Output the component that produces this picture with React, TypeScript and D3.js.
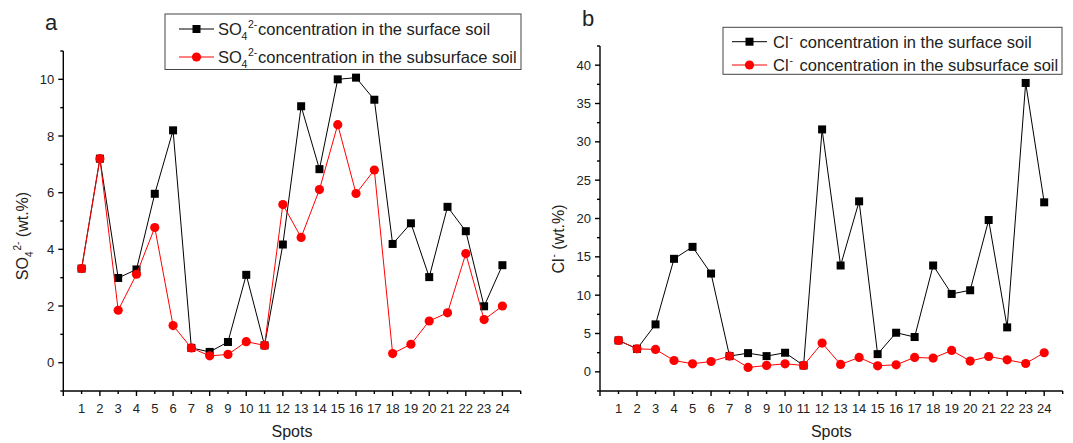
import React from 'react';
import * as d3 from 'd3';

const spots = [1, 2, 3, 4, 5, 6, 7, 8, 9, 10, 11, 12, 13, 14, 15, 16, 17, 18, 19, 20, 21, 22, 23, 24];

const so4Surface = [3.32, 7.2, 2.99, 3.29, 5.96, 8.2, 0.52, 0.38, 0.73, 3.1, 0.61, 4.17, 9.05, 6.83, 10.0, 10.06, 9.28, 4.19, 4.92, 3.02, 5.5, 4.64, 1.99, 3.44];
const so4Subsurface = [3.32, 7.2, 1.85, 3.12, 4.77, 1.31, 0.52, 0.24, 0.29, 0.74, 0.61, 5.58, 4.42, 6.11, 8.4, 5.97, 6.8, 0.32, 0.65, 1.47, 1.76, 3.85, 1.52, 2.0];

const clSurface = [4.1, 3.0, 6.19, 14.74, 16.3, 12.82, 2.05, 2.44, 2.05, 2.49, 0.83, 31.62, 13.87, 22.24, 2.31, 5.1, 4.54, 13.87, 10.16, 10.64, 19.8, 5.8, 37.68, 22.11];
const clSubsurface = [4.1, 3.0, 2.92, 1.48, 1.05, 1.35, 2.05, 0.57, 0.83, 1.05, 0.83, 3.75, 0.96, 1.88, 0.79, 0.92, 1.88, 1.79, 2.79, 1.4, 2.0, 1.57, 1.09, 2.49];

const xMajorTicks = [0, 2, 4, 6, 8, 10, 12, 14, 16, 18, 20, 22, 24];
const xMinorTicks = [1, 3, 5, 7, 9, 11, 13, 15, 17, 19, 21, 23, 25];
const so4MajorTicks = [0, 2, 4, 6, 8, 10];
const so4MinorTicks = [-1, 1, 3, 5, 7, 9, 11];
const clMajorTicks = [0, 5, 10, 15, 20, 25, 30, 35, 40];
const clMinorTicks = [-2.5, 2.5, 7.5, 12.5, 17.5, 22.5, 27.5, 32.5, 37.5, 42.5];

const FONT = "'Liberation Sans', Arial, sans-serif";
const RED = '#ff0000';
const TXT = '#222';

type PanelProps = {
  x0: number; x1: number; y0: number; y1: number;
  xDomain: [number, number]; yDomain: [number, number];
  yMajor: number[]; yMinor: number[];
  surface: number[]; subsurface: number[];
  yLabel: React.ReactNode;
  legend: React.ReactNode;
  letter: React.ReactNode;
};

function Panel(p: PanelProps) {
  const xs = d3.scaleLinear().domain(p.xDomain).range([p.x0, p.x1]);
  const ys = d3.scaleLinear().domain(p.yDomain).range([p.y1, p.y0]);
  const line = d3.line<number>().x((_, i) => xs(spots[i])).y((d) => ys(d));
  return (
    <g>
      <line x1={p.x0} x2={p.x0} y1={p.y0} y2={p.y1} stroke="#000" strokeWidth={1.4} />
      <line x1={p.x0} x2={p.x1} y1={p.y1} y2={p.y1} stroke="#000" strokeWidth={1.4} />
      {p.yMajor.map((t) => (
        <g key={'ym' + t}>
          <line x1={p.x0 - 5} x2={p.x0} y1={ys(t)} y2={ys(t)} stroke="#000" strokeWidth={1.4} />
          <text x={p.x0 - 9} y={ys(t) + 4.5} textAnchor="end" fontSize={13} fontFamily={FONT} fill={TXT}>{t}</text>
        </g>
      ))}
      {p.yMinor.map((t) => (
        <line key={'yn' + t} x1={p.x0 - 3} x2={p.x0} y1={ys(t)} y2={ys(t)} stroke="#000" strokeWidth={1.4} />
      ))}
      {xMajorTicks.map((t) => (
        <line key={'xm' + t} x1={xs(t)} x2={xs(t)} y1={p.y1} y2={p.y1 + 5} stroke="#000" strokeWidth={1.4} />
      ))}
      {xMinorTicks.map((t) => (
        <line key={'xn' + t} x1={xs(t)} x2={xs(t)} y1={p.y1} y2={p.y1 + 3} stroke="#000" strokeWidth={1.4} />
      ))}
      {spots.map((s) => (
        <text key={'xl' + s} x={xs(s)} y={p.y1 + 22} textAnchor="middle" fontSize={13} fontFamily={FONT} fill={TXT}>{s}</text>
      ))}
      <text x={(p.x0 + p.x1) / 2} y={p.y1 + 46} textAnchor="middle" fontSize={16} fontFamily={FONT} fill={TXT}>Spots</text>
      {p.yLabel}
      {p.letter}
      <path d={line(p.surface) || ''} fill="none" stroke="#000" strokeWidth={1} />
      {p.surface.map((v, i) => (
        <rect key={'sq' + i} x={xs(spots[i]) - 4} y={ys(v) - 4} width={8} height={8} fill="#000" />
      ))}
      <path d={line(p.subsurface) || ''} fill="none" stroke={RED} strokeWidth={1} />
      {p.subsurface.map((v, i) => (
        <circle key={'ci' + i} cx={xs(spots[i])} cy={ys(v)} r={4.6} fill={RED} />
      ))}
      {p.legend}
    </g>
  );
}

function LegendRow({ x, y, color, square, children }: { x: number; y: number; color: string; square: boolean; children: React.ReactNode }) {
  return (
    <g>
      <line x1={x} x2={x + 35} y1={y} y2={y} stroke={color} strokeWidth={1} />
      {square ? (
        <rect x={x + 17.5 - 4} y={y - 4} width={8} height={8} fill={color} />
      ) : (
        <circle cx={x + 17.5} cy={y} r={4.6} fill={color} />
      )}
      {children}
    </g>
  );
}

function SO4Text({ x, y, rest }: { x: number; y: number; rest: string }) {
  return (
    <text y={y} fontSize={16.5} fontFamily={FONT} fill={TXT}>
      <tspan x={x}>SO</tspan>
      <tspan x={x + 23.5} fontSize={10.5} dy={5}>4</tspan>
      <tspan x={x + 30} fontSize={10.5} dy={-12}>2-</tspan>
      <tspan x={x + 40} dy={7}>{rest}</tspan>
    </text>
  );
}

function ClText({ x, y, rest }: { x: number; y: number; rest: string }) {
  return (
    <text y={y} fontSize={16.5} fontFamily={FONT} fill={TXT}>
      <tspan x={x}>Cl</tspan>
      <tspan x={x + 16.5} fontSize={10.5} dy={-7}>-</tspan>
      <tspan x={x + 26.5} dy={7}>{rest}</tspan>
    </text>
  );
}

export default function App() {
  return (
    <svg width={1073} height={443} style={{ position: 'absolute', left: 0, top: 0, background: '#fff' }}>
      <rect width={1073} height={443} fill="#fff" />
      <Panel
        x0={63.3} x1={520.7} y0={51} y1={391}
        xDomain={[0, 25]} yDomain={[-1, 11]}
        yMajor={so4MajorTicks} yMinor={so4MinorTicks}
        surface={so4Surface} subsurface={so4Subsurface}
        letter={<text x={45} y={30} fontSize={22} fontFamily={FONT} fill={TXT}>a</text>}
        yLabel={
          <text transform="translate(28,236) rotate(-90)" textAnchor="middle" fontSize={16} fontFamily={FONT} fill={TXT}>
            <tspan>SO</tspan>
            <tspan fontSize={10} dy={5}>4</tspan>
            <tspan fontSize={10} dy={-12} dx={1}>2-</tspan>
            <tspan fontSize={16} dy={7}> (wt.%)</tspan>
          </text>
        }
        legend={
          <g>
            <rect x={165} y={14} width={356} height={55.5} fill="#fff" stroke="#444" strokeWidth={1} />
            <LegendRow x={179} y={29} color="#000" square>
              <SO4Text x={218} y={35} rest="concentration in the surface soil" />
            </LegendRow>
            <LegendRow x={179} y={57} color={RED} square={false}>
              <SO4Text x={218} y={62.5} rest="concentration in the subsurface soil" />
            </LegendRow>
          </g>
        }
      />
      <Panel
        x0={600} x1={1062.7} y0={46} y1={391}
        xDomain={[0, 25]} yDomain={[-2.5, 42.5]}
        yMajor={clMajorTicks} yMinor={clMinorTicks}
        surface={clSurface} subsurface={clSubsurface}
        letter={<text x={582} y={26} fontSize={22} fontFamily={FONT} fill={TXT}>b</text>}
        yLabel={
          <text transform="translate(564,239) rotate(-90)" textAnchor="middle" fontSize={16} fontFamily={FONT} fill={TXT}>
            <tspan>Cl</tspan>
            <tspan fontSize={10} dy={-7} dx={1}>-</tspan>
            <tspan fontSize={16} dy={7}> (wt.%)</tspan>
          </text>
        }
        legend={
          <g>
            <rect x={723} y={27.3} width={339} height={47} fill="#fff" stroke="#444" strokeWidth={1} />
            <LegendRow x={732} y={41.7} color="#000" square>
              <ClText x={773} y={47.7} rest="concentration in the surface soil" />
            </LegendRow>
            <LegendRow x={732} y={65} color={RED} square={false}>
              <ClText x={773} y={71} rest="concentration in the subsurface soil" />
            </LegendRow>
          </g>
        }
      />
    </svg>
  );
}
